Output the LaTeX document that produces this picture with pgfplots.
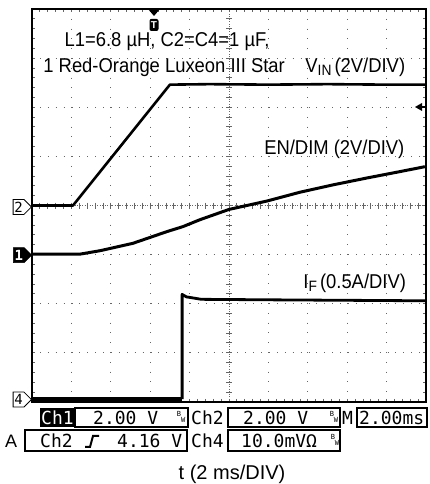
\documentclass[border=0pt]{standalone}
\usepackage{pgfplots}
\pgfplotsset{compat=1.18}
\usepackage{pgfplotstable}
\usepackage{fontspec}
\setmainfont{Liberation Sans}
\newfontfamily\scopefont{DejaVu Sans Mono}
\usetikzlibrary{shapes.symbols}

% traces, in divisions (10 x 8 screen)
\pgfplotstableread{
x y
0    4.00
1.04 4.00
3.50 6.46
4.5  6.47
6.0  6.46
7.5  6.47
9.0  6.46
10   6.46
}\vin
\pgfplotstableread{
x y
0    3.01
1.22 3.01
1.73 3.08
2.56 3.23
3.43 3.47
3.83 3.57
4.26 3.71
5.00 3.92
5.96 4.09
6.80 4.27
7.64 4.42
8.50 4.56
9.34 4.69
9.97 4.79
}\endim
\pgfplotstableread{
x y
3.81 0.06
3.81 2.19
3.92 2.14
4.30 2.09
6.0  2.08
8.0  2.07
10   2.06
}\iftop
\pgfplotstableread{
x y
0    0.06
3.81 0.06
}\ifbase

\newcommand\lab[1]{\scalebox{0.92}[1]{\fontsize{20bp}{24bp}\selectfont #1}}
\newcommand\bw{\fontsize{7bp}{7bp}\selectfont\raisebox{3bp}{B}\raisebox{-3.5bp}{W}}

\begin{document}
\begin{tikzpicture}
\useasboundingbox (0,0) rectangle (430bp,484bp);

% screen graticule (pixel frame: x 32..426, y 9..402)
\begin{scope}[x=1bp,y=-1bp,yshift=484bp]
  \foreach \i in {1,...,9}
    \draw[black!60,line width=0.9bp,dash pattern=on 1bp off 8.8bp] (32+\i*39.4,9) -- (32+\i*39.4,402);
  \foreach \j in {1,...,7}
    \draw[black!60,line width=0.9bp,dash pattern=on 1bp off 6.9bp] (32,402-\j*49.1) -- (426,402-\j*49.1);
  \draw[black!60,line width=0.9bp,dash pattern=on 1bp off 1.5bp] (229,9) -- (229,402);
  \draw[black!60,line width=0.9bp,dash pattern=on 1bp off 1.5bp] (32,205.6) -- (426,205.6);
  \foreach \k in {1,...,49}{
    \draw[black!60,line width=0.8bp] (32+\k*7.88,202.6) -- (32+\k*7.88,208.6);
    \draw[black!60,line width=0.8bp] (32+\k*7.88,9) -- (32+\k*7.88,12);
    \draw[black!60,line width=0.8bp] (32+\k*7.88,399) -- (32+\k*7.88,402);}
  \foreach \k in {1,...,39}{
    \draw[black!60,line width=0.8bp] (226,9+\k*9.82) -- (232,9+\k*9.82);
    \draw[black!60,line width=0.8bp] (32,9+\k*9.82) -- (35,9+\k*9.82);
    \draw[black!60,line width=0.8bp] (423,9+\k*9.82) -- (426,9+\k*9.82);}
\end{scope}

\begin{axis}[
    at={(32bp,82bp)}, anchor=south west,
    scale only axis, width=394bp, height=393bp,
    xmin=0, xmax=10, ymin=0, ymax=8,
    xtick=\empty, ytick=\empty,
    axis line style={line width=2bp},
    clip=false,
]
\addplot[black, line width=2.6bp, line join=round] table {\vin};
\addplot[black, line width=3bp, line join=round] table {\endim};
\addplot[black, line width=2.8bp, line join=round] table {\iftop};
\addplot[black, line width=4.5bp] table {\ifbase};

\node[anchor=base west] at (axis cs:0.74,7.23) {\lab{L1=6.8 µH, C2=C4=1 µF,}};
\node[anchor=base west] at (axis cs:0.20,6.70) {\lab{1 Red-Orange Luxeon III Star}};
\node[anchor=base east] at (axis cs:9.56,6.70) {\lab{V\raisebox{-3bp}{\fontsize{15bp}{15bp}\selectfont IN}\,(2V/DIV)}};
\node[anchor=base east] at (axis cs:9.54,5.03) {\lab{EN/DIM (2V/DIV)}};
\node[anchor=base east] at (axis cs:9.58,2.32) {\lab{I\raisebox{-3bp}{\fontsize{15bp}{15bp}\selectfont F}\,(0.5A/DIV)}};

% channel ground markers
\node[signal, signal to=east, draw, fill=white, line width=0.8bp, inner sep=1.2bp, minimum height=15bp,
      font=\scopefont\fontsize{14bp}{14bp}\selectfont, anchor=east] at (axis cs:0,3.97) {2};
\node[signal, signal to=east, draw, fill=black, text=white, inner sep=1.2bp, minimum height=15bp,
      font=\scopefont\bfseries\fontsize{14bp}{14bp}\selectfont, anchor=east] at (axis cs:0,2.99) {1};
\node[signal, signal to=east, draw, fill=white, line width=0.8bp, inner sep=1.2bp, minimum height=15bp,
      font=\scopefont\fontsize{14bp}{14bp}\selectfont, anchor=east] at (axis cs:0,0.05) {4};
\end{axis}

% trigger markers and readout
\begin{scope}[x=1bp,y=-1bp,yshift=484bp,
    every node/.style={inner sep=0pt, font=\scopefont\fontsize{18bp}{18bp}\selectfont}]
  \fill (148,9) -- (160,9) -- (154,16) -- cycle;
  \node[fill=black, rounded corners=2bp, text=white, minimum width=9bp, minimum height=12bp,
        font=\bfseries\fontsize{10bp}{10bp}\selectfont] at (154,25) {T};
  \fill (415,107) -- (422,103) -- (422,111) -- cycle;
  \draw[line width=1.2bp] (420,107) -- (426,107);

  \fill (40,408) rectangle (75,427);
  \node[anchor=base, text=white] at (57.5,425) {Ch1};
  \draw[line width=1.3bp] (75,408) rectangle (188,427);
  \node[anchor=base west] at (93,425) {2.00 V};
  \node at (181,417) {\bw};
  \node[anchor=base west] at (191,425) {Ch2};
  \draw[line width=1.3bp] (228,408) rectangle (340,427);
  \node[anchor=base west] at (243,425) {2.00 V};
  \node at (334,417) {\bw};
  \node[anchor=base west] at (342,425) {M};
  \draw[line width=1.3bp] (357,408) rectangle (427,427);
  \node[anchor=base west] at (359,425) {2.00ms};

  \node[anchor=base west, font=\normalfont\fontsize{18bp}{18bp}\selectfont] at (5,448) {A};
  \draw[line width=1.3bp] (25,430) rectangle (187,451);
  \node[anchor=base west] at (40,448) {Ch2};
  \draw[line width=2bp] (85,447) -- (90,447) -- (93,436) -- (99,436);
  \node[anchor=base west] at (117,448) {4.16 V};
  \node[anchor=base west] at (191,448) {Ch4};
  \draw[line width=1.3bp] (228,430) rectangle (340,451);
  \node[anchor=base west] at (241,448) {10.0mVΩ};
  \node at (335,440) {\bw};

  \node[anchor=base, font=\normalfont\fontsize{20bp}{24bp}\selectfont] at (232,480) {t (2 ms/DIV)};
\end{scope}
\end{tikzpicture}
\end{document}
